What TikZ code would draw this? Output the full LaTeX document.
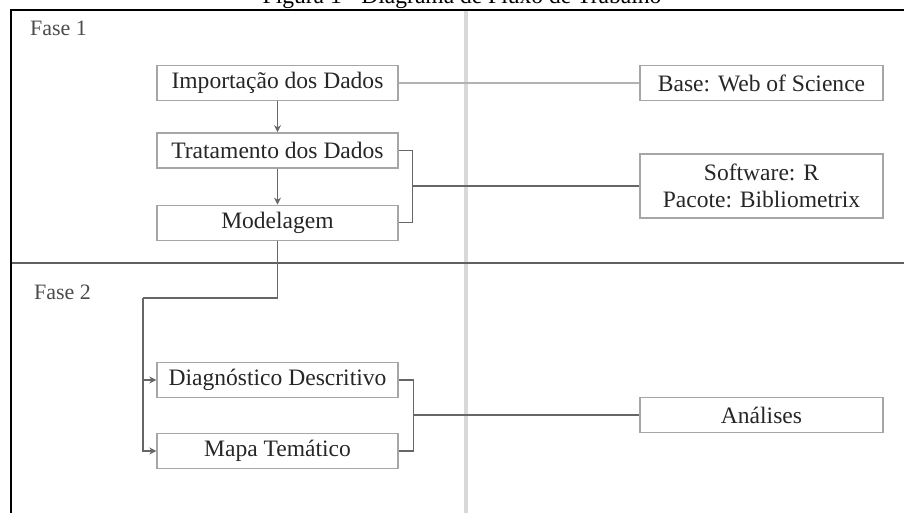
\documentclass[tikz,border=0pt]{standalone}
\usepackage{fontspec}
\setmainfont{Liberation Serif}
\usetikzlibrary{arrows.meta, positioning}

\begin{document}
\begin{tikzpicture}[
        x=0.02cm, y=-0.02cm,
        font=\fontsize{13.4}{15.5}\selectfont,
        box/.style={draw=gray!70, line width=0.8pt, text=black!85, minimum width=4.82cm, minimum height=0.7cm, inner sep=0pt, align=center},
        wide/.style={box, minimum width=4.86cm},
        phase/.style={anchor=west, text=gray!60!black, font=\fontsize{12.5}{14}\selectfont},
        link/.style={draw=gray!80!black, line width=0.7pt},
        arrow/.style={link, -{Stealth[length=4pt, width=4pt]}}
        ]
        \useasboundingbox (0,0) rectangle (904,513);

        % Frame, half-cut caption and phase separators
        \node[anchor=base] (caption) at (462,4) {Figura 1 - Diagrama de Fluxo de Trabalho};
        \draw[gray!30, line width=1.8pt] (466,11) -- (466,520);
        \draw[gray!75!black, line width=0.8pt] (11,263) -- (910,263);
        \draw[line width=1.6pt] (11,520) -- (11,10) -- (910,10);
        \node[phase] (fase1) at (24,28) {Fase 1};
        \node[phase] (fase2) at (28,292) {Fase 2};

        % Nodes, phase 1
        \node[box] (import) at (277.5,83) {Importação dos Dados};
        \node[box, below=0.62cm of import] (trat) {Tratamento dos Dados};
        \node[box, below=0.72cm of trat] (model) {Modelagem};
        \node[wide] (base) at (761.5,83) {Base: Web of Science};
        \node[wide, minimum height=1.28cm] (soft) at (761.5,186) {Software: R\\ Pacote: Bibliometrix};

        % Nodes, phase 2
        \node[box] (diag) at (277.5,380) {Diagnóstico Descritivo};
        \node[box] (mapa) at (277.5,451) {Mapa Temático};
        \node[wide] (anal) at (761.5,415) {Análises};

        % Connectors, phase 1
        \draw [link, draw=gray!60] (import) -- (base);
        \draw [arrow] (import) -- (trat);
        \draw [arrow] (trat) -- (model);
        \draw [link] (trat.east) -- ++(14,0) coordinate (joinA) |- (model.east);
        \draw [link] (joinA |- soft.west) -- (soft.west);

        % Connectors, phase 2
        \coordinate (split) at (143,298);
        \draw [link] (model.south) |- (split);
        \foreach \n in {diag, mapa}
            \draw [arrow] (split) |- (\n.west);
        \draw [link] (diag.east) -- ++(15,0) coordinate (joinB) |- (mapa.east);
        \draw [link] (joinB |- anal.west) -- (anal.west);

\end{tikzpicture}
\end{document}
